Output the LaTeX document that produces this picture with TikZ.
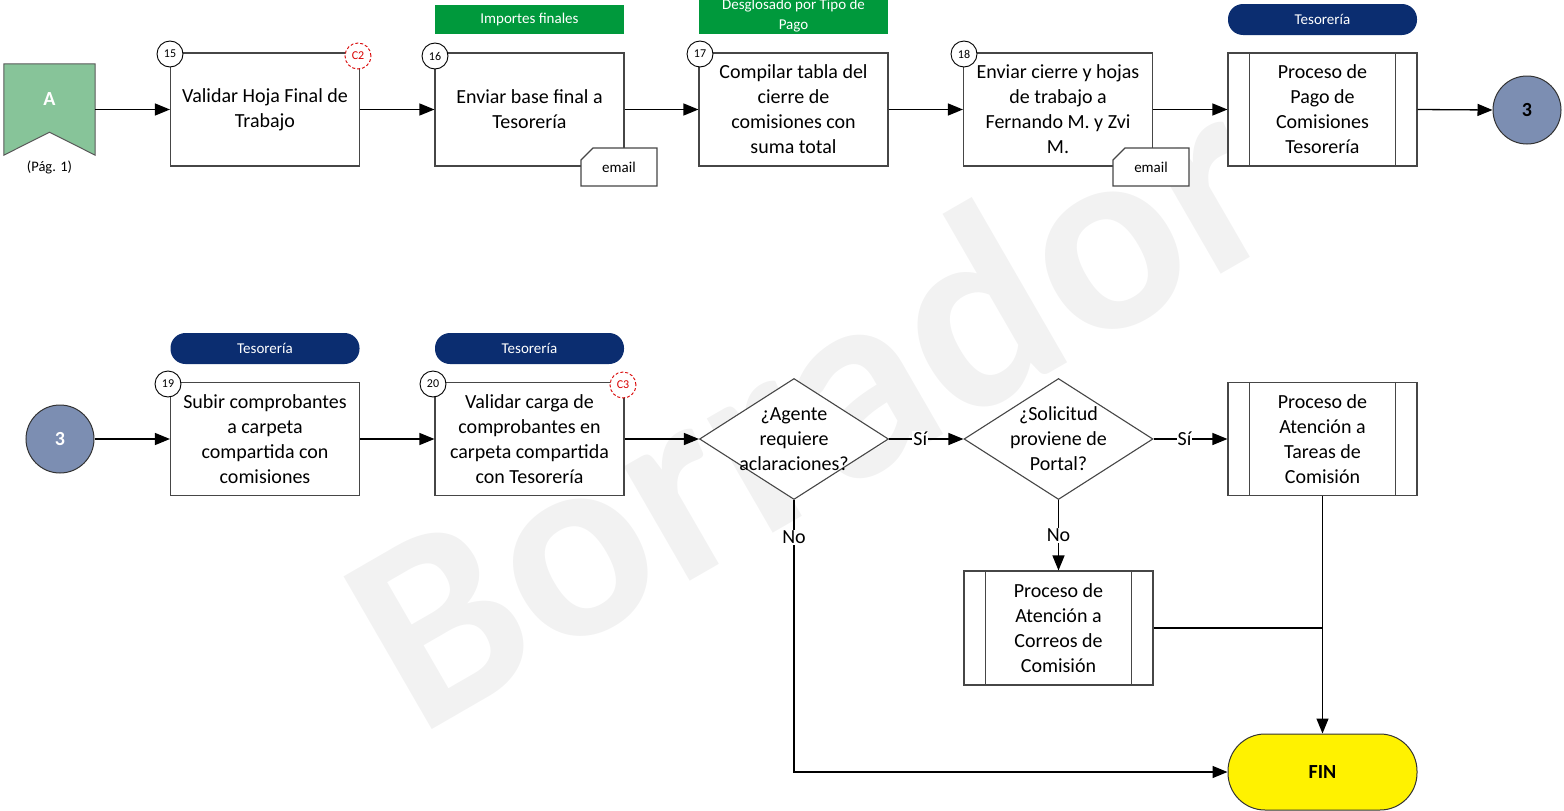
\documentclass[tikz,border=0pt]{standalone}
\usepackage{fontspec}
\setmainfont{Carlito}
\usetikzlibrary{arrows.meta,shapes.geometric,calc}
\newcommand{\fz}[2]{\fontsize{#1}{#2}\selectfont}
\definecolor{hdrgreen}{RGB}{0,153,60}
\definecolor{navy}{RGB}{11,45,112}
\definecolor{bannergreen}{RGB}{135,196,153}
\definecolor{slate}{RGB}{124,142,178}
\definecolor{boxline}{RGB}{70,70,70}
\tikzset{
  procbox/.style={draw=boxline, line width=1.1pt, fill=white, minimum width=189pt, minimum height=113pt, align=center, inner sep=1pt, font=\fz{20}{25}},
  numcirc/.style={circle, draw=black, line width=0.9pt, fill=white, minimum size=26pt, inner sep=0pt, font=\fz{12}{12}},
  ctrlcirc/.style={circle, draw=red!85!black, dashed, dash pattern=on 3pt off 2pt, line width=0.9pt, fill=white, text=red!85!black, minimum size=26pt, inner sep=0pt, font=\fz{12}{12}},
  greenhdr/.style={fill=hdrgreen, text=white, minimum width=189pt, align=center, inner sep=0pt, font=\fz{15}{20}},
  navypill/.style={fill=navy, text=white, rounded corners=15pt, minimum width=189pt, minimum height=31pt, inner sep=0pt, font=\fz{15}{18}},
  flowarrow/.style={-{Triangle[length=15pt,width=12pt]}, line width=1.3pt, black},
  plainline/.style={line width=1.3pt, black},
  decision/.style={diamond, draw=boxline, line width=1.1pt, fill=white, minimum width=189pt, minimum height=121pt, inner sep=0pt},
  dectext/.style={align=center, font=\fz{20}{25}, inner sep=0pt},
  lab/.style={fill=white, inner sep=1pt, font=\fz{20}{22}},
  connthree/.style={circle, draw=black!80, line width=1pt, fill=slate, minimum size=68pt, inner sep=0pt, font=\fz{20}{20}\bfseries},
  tabline/.style={draw=boxline, line width=1.1pt, fill=white}
}
\begin{document}
\begin{tikzpicture}[x=1pt,y=-1pt]
\useasboundingbox (0,0) rectangle (1564,811);
% watermark
\node[rotate=30, anchor=base west, text=black!5, font=\fz{272}{272}\bfseries, inner sep=0pt] (wm) at (418,738) {Borrador};

% ---------- top row ----------
\node[minimum width=91pt, minimum height=91pt, inner sep=0pt] (bannerA) at (49.5,109.5) {};
\draw[fill=bannergreen, draw=black!65, line width=1pt] (bannerA.north west) -- (bannerA.north east) -- (bannerA.south east) -- ($(bannerA.south)+(0,-23)$) -- (bannerA.south west) -- cycle;
\node[text=white, font=\fz{20}{20}\bfseries] (Atxt) at (49.5,99) {A};
\node[font=\fz{14.5}{16}] (pag) at (49.5,167) {(Pág. 1)};

\node[procbox] (b15) at (265,109.5) {Validar Hoja Final de\\Trabajo};
\node[numcirc] (n15) at (170,54) {15};
\node[ctrlcirc] (c2) at (358,56) {C2};

\node[greenhdr, minimum height=29pt] (h16) at (529.5,19.5) {Importes finales};
\node[procbox] (b16) at (529.5,109.5) {Enviar base final a\\Tesorería};
\node[numcirc] (n16) at (435,56) {16};
\draw[tabline] (581,160) -- (593,148) -- (657,148) -- (657,186) -- (581,186) -- cycle;
\node[font=\fz{15}{15}] (e16) at (619,167) {email};

\node[greenhdr, minimum height=34pt] (h17) at (793.5,17) {};
\node[text=white, align=center, font=\fz{15}{20}] (h17t) at (793.5,16) {Desglosado por Tipo de\\Pago};
\node[procbox] (b17) at (793.5,109.5) {Compilar tabla del\\cierre de\\comisiones con\\suma total};
\node[numcirc] (n17) at (700,54) {17};

\node[procbox] (b18) at (1058,109.5) {Enviar cierre y hojas\\de trabajo a\\Fernando M. y Zvi\\M.};
\node[numcirc] (n18) at (964,54) {18};
\draw[tabline] (1113,160) -- (1125,148) -- (1189,148) -- (1189,186) -- (1113,186) -- cycle;
\node[font=\fz{15}{15}] (e18) at (1151,167) {email};

\node[navypill] (t1) at (1322.5,19.5) {Tesorería};
\node[procbox] (p1) at (1322.5,109.5) {Proceso de\\Pago de\\Comisiones\\Tesorería};
\draw[boxline, line width=1.1pt] ([xshift=22pt]p1.north west) -- ([xshift=22pt]p1.south west);
\draw[boxline, line width=1.1pt] ([xshift=-22pt]p1.north east) -- ([xshift=-22pt]p1.south east);

\node[connthree] (c3a) at (1527,110) {3};

\draw[flowarrow] (bannerA.east) -- (b15.west);
\draw[flowarrow] (b15.east) -- (b16.west);
\draw[flowarrow] (b16.east) -- (b17.west);
\draw[flowarrow] (b17.east) -- (b18.west);
\draw[flowarrow] (b18.east) -- (p1.west);
\draw[flowarrow] (p1.east) -- (c3a.west);

% ---------- bottom row ----------
\node[connthree, text=white] (c3b) at (60,439) {3};

\node[navypill] (t19) at (265,348.5) {Tesorería};
\node[procbox] (b19) at (265,439) {Subir comprobantes\\a carpeta\\compartida con\\comisiones};
\node[numcirc] (n19) at (168,384) {19};

\node[navypill] (t20) at (529.5,348.5) {Tesorería};
\node[procbox] (b20) at (529.5,439) {Validar carga de\\comprobantes en\\carpeta compartida\\con Tesorería};
\node[numcirc] (n20) at (433,384) {20};
\node[ctrlcirc] (c3) at (623,385) {C3};

\node[decision] (d1) at (794,439) {};
\node[dectext] (d1t) at (794,439) {¿Agente\\requiere\\aclaraciones?};
\node[decision] (d2) at (1058.5,439) {};
\node[dectext] (d2t) at (1058.5,439) {¿Solicitud\\proviene de\\Portal?};

\node[procbox] (p2) at (1322.5,439) {Proceso de\\Atención a\\Tareas de\\Comisión};
\draw[boxline, line width=1.1pt] ([xshift=22pt]p2.north west) -- ([xshift=22pt]p2.south west);
\draw[boxline, line width=1.1pt] ([xshift=-22pt]p2.north east) -- ([xshift=-22pt]p2.south east);

\node[procbox, minimum height=114pt] (p3) at (1058.5,628) {Proceso de\\Atención a\\Correos de\\Comisión};
\draw[boxline, line width=1.1pt] ([xshift=22pt]p3.north west) -- ([xshift=22pt]p3.south west);
\draw[boxline, line width=1.1pt] ([xshift=-22pt]p3.north east) -- ([xshift=-22pt]p3.south east);

\node[draw=black!80, line width=1pt, fill=yellow, rounded corners=37pt, minimum width=189pt, minimum height=76pt, inner sep=0pt, font=\fz{20}{20}\bfseries] (fin) at (1322.5,772) {FIN};

\draw[flowarrow] (c3b.east) -- (b19.west);
\draw[flowarrow] (b19.east) -- (b20.west);
\draw[flowarrow] (b20.east) -- (d1.west);
\draw[flowarrow] (d1.east) -- node[lab, pos=0.42] (si1) {Sí} (d2.west);
\draw[flowarrow] (d2.east) -- node[lab, pos=0.42] (si2) {Sí} (p2.west);
\draw[flowarrow] (d2.south) -- node[lab, pos=0.5] (no2) {No} (p3.north);
\draw[flowarrow] (d1.south) |- node[lab, pos=0.068] (no1) {No} (fin.west);
\draw[flowarrow] (p2.south) -- (fin.north);
\coordinate (join) at (p2.south |- p3.east);
\draw[plainline] (p3.east) -- (join);
\end{tikzpicture}
\end{document}
